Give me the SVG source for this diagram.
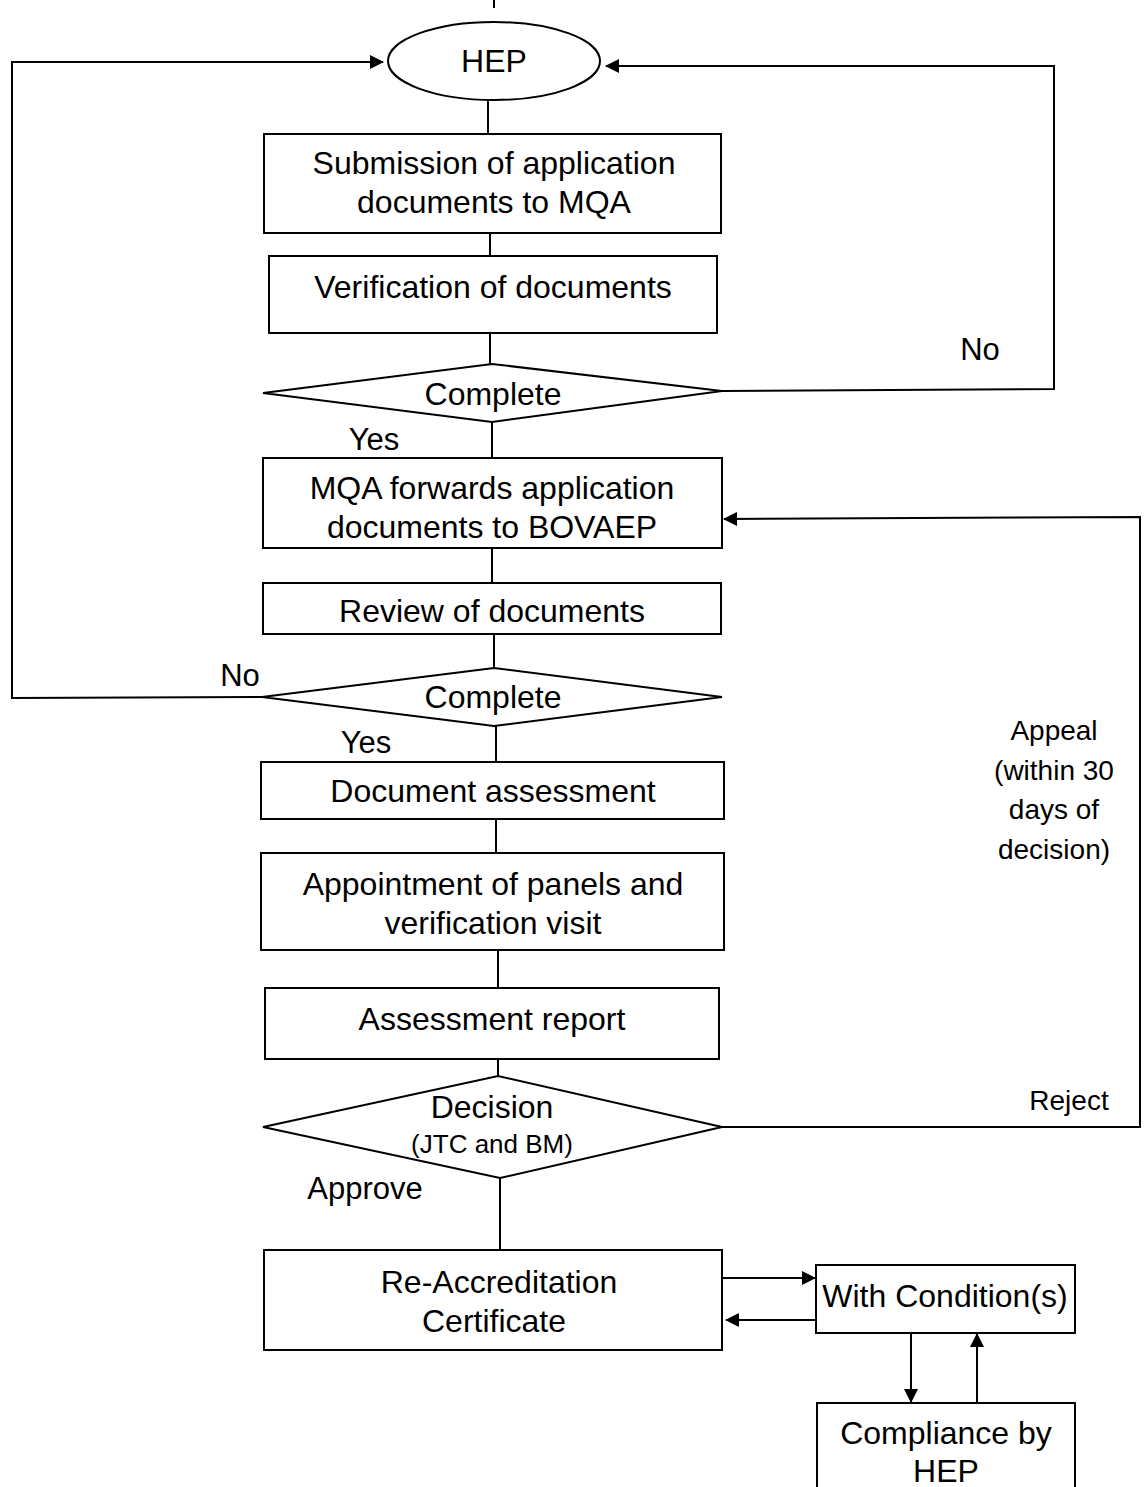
<svg xmlns="http://www.w3.org/2000/svg" width="1144" height="1487" viewBox="0 0 1144 1487">
<defs>
<marker id="ah" viewBox="0 0 14 14" refX="13" refY="7" markerWidth="14" markerHeight="14" markerUnits="userSpaceOnUse" orient="auto">
<path d="M0,0 L14,7 L0,14 z" fill="#000"/>
</marker>
</defs>
<style>
.n{fill:#fff;stroke:#000;stroke-width:2}
.t{font-family:"Liberation Sans",Arial,sans-serif;font-size:32px;fill:#000;text-anchor:middle}
.l{font-family:"Liberation Sans",Arial,sans-serif;font-size:31px;fill:#000;text-anchor:middle}
.s{font-family:"Liberation Sans",Arial,sans-serif;font-size:28px;fill:#000;text-anchor:middle}
.c{fill:none;stroke:#000;stroke-width:2}
.a{fill:none;stroke:#000;stroke-width:2;marker-end:url(#ah)}
</style>
<rect width="1144" height="1487" fill="#fff"/>
<g id="connectors">
<line class="c" x1="494" y1="0" x2="494" y2="8"/>
<line class="c" x1="488" y1="100" x2="488" y2="134"/>
<line class="c" x1="490" y1="233" x2="490" y2="256"/>
<line class="c" x1="490" y1="333" x2="490" y2="364"/>
<line class="c" x1="492" y1="422" x2="492" y2="458"/>
<line class="c" x1="492" y1="548" x2="492" y2="583"/>
<line class="c" x1="494" y1="634" x2="494" y2="668"/>
<line class="c" x1="496" y1="726" x2="496" y2="762"/>
<line class="c" x1="496" y1="819" x2="496" y2="853"/>
<line class="c" x1="498" y1="950" x2="498" y2="988"/>
<line class="c" x1="498" y1="1059" x2="498" y2="1076"/>
<line class="c" x1="500" y1="1178" x2="500" y2="1250"/>
<polyline class="a" points="722,391 1054,389 1054,66 606,66"/>
<polyline class="a" points="262,697 12,698 12,62 383,62"/>
<polyline class="a" points="722,1127 1140,1127 1140,517 724,519"/>
<line class="a" x1="722" y1="1278" x2="815" y2="1278"/>
<line class="a" x1="817" y1="1320" x2="726" y2="1320"/>
<line class="a" x1="911" y1="1333" x2="911" y2="1402"/>
<line class="a" x1="977" y1="1403" x2="977" y2="1334"/>
<text class="l" x="980" y="360">No</text>
<text class="l" x="374" y="450">Yes</text>
<text class="l" x="240" y="686">No</text>
<text class="l" x="366" y="753">Yes</text>
<text class="l" x="365" y="1199">Approve</text>
<text class="s" x="1069" y="1110">Reject</text>
<text class="s" x="1054" y="740">Appeal</text>
<text class="s" x="1054" y="780">(within 30</text>
<text class="s" x="1054" y="819">days of</text>
<text class="s" x="1054" y="859">decision)</text>
</g>
<g id="hep">
<ellipse class="n" cx="494" cy="61" rx="106" ry="39"/>
<text class="t" x="494" y="72">HEP</text>
</g>
<g id="submission">
<rect class="n" x="264" y="134" width="457" height="99"/>
<text class="t" x="494" y="174">Submission of application</text>
<text class="t" x="494" y="213">documents to MQA</text>
</g>
<g id="verification">
<rect class="n" x="269" y="256" width="448" height="77"/>
<text class="t" x="493" y="298">Verification of documents</text>
</g>
<g id="complete1">
<polygon class="n" points="263,393 492,364 722,391 492,422"/>
<text class="t" x="493" y="405">Complete</text>
</g>
<g id="forwards">
<rect class="n" x="263" y="458" width="459" height="90"/>
<text class="t" x="492" y="499">MQA forwards application</text>
<text class="t" x="492" y="538">documents to BOVAEP</text>
</g>
<g id="review">
<rect class="n" x="263" y="583" width="458" height="51"/>
<text class="t" x="492" y="622">Review of documents</text>
</g>
<g id="complete2">
<polygon class="n" points="262,697 494,668 722,697 494,726"/>
<text class="t" x="493" y="708">Complete</text>
</g>
<g id="assessment">
<rect class="n" x="261" y="762" width="463" height="57"/>
<text class="t" x="493" y="802">Document assessment</text>
</g>
<g id="appointment">
<rect class="n" x="261" y="853" width="463" height="97"/>
<text class="t" x="493" y="895">Appointment of panels and</text>
<text class="t" x="493" y="934">verification visit</text>
</g>
<g id="report">
<rect class="n" x="265" y="988" width="454" height="71"/>
<text class="t" x="492" y="1030">Assessment report</text>
</g>
<g id="decision">
<polygon class="n" points="263,1127 498,1076 722,1127 500,1178"/>
<text class="t" x="492" y="1118">Decision</text>
<text class="s" x="492" y="1153" style="font-size:26px">(JTC and BM)</text>
</g>
<g id="certificate">
<rect class="n" x="264" y="1250" width="458" height="100"/>
<text class="t" x="499" y="1293">Re-Accreditation</text>
<text class="t" x="494" y="1332">Certificate</text>
</g>
<g id="conditions">
<rect class="n" x="816" y="1265" width="259" height="68"/>
<text class="t" x="945" y="1307">With Condition(s)</text>
</g>
<g id="compliance">
<rect class="n" x="817" y="1403" width="258" height="100"/>
<text class="t" x="946" y="1444">Compliance by</text>
<text class="t" x="946" y="1482">HEP</text>
</g>
</svg>
